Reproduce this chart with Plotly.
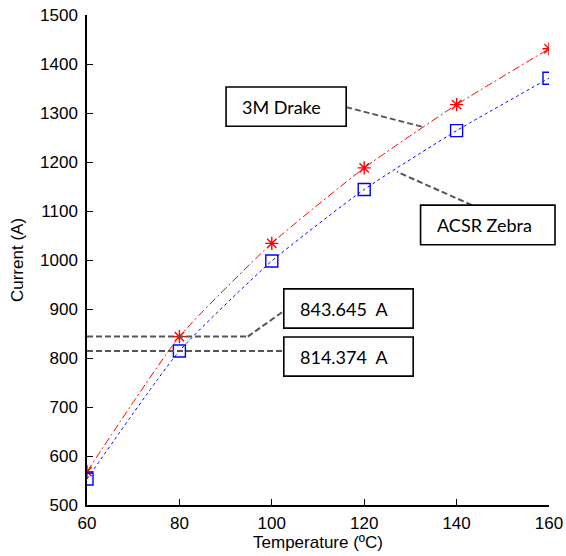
import plotly.graph_objects as go

temps = [60, 80, 100, 120, 140, 160]
drake = [568, 843.645, 1034, 1188, 1317, 1431]
zebra = [553, 814.374, 998, 1144, 1264, 1371]
xticks = [60, 80, 100, 120, 140, 160]
yticks = [500, 600, 700, 800, 900, 1000, 1100, 1200, 1300, 1400, 1500]

XR = (60, 160)

def px(x):
    return (x - XR[0]) / (XR[1] - XR[0])

fig = go.Figure()
fig.add_trace(go.Scatter(x=temps, y=drake, mode="lines+markers", name="3M Drake",
                         line=dict(color="red", width=1, dash="8px,3px,2px,3px", shape="spline", smoothing=0.5),
                         marker=dict(symbol="asterisk-open", size=11, line=dict(color="red", width=1.4))))
fig.add_trace(go.Scatter(x=temps, y=zebra, mode="lines+markers", name="ACSR Zebra",
                         line=dict(color="blue", width=1, dash="3px,3px", shape="spline", smoothing=0.5),
                         marker=dict(symbol="square-open", size=12, color="blue", line=dict(color="blue", width=1.4))))

shapes = []
annos = []
grey = dict(color="#555555", width=2, dash="6px,3px")

def box(x0, x1, y0, y1, text):
    shapes.append(dict(type="rect", xref="paper", yref="y", x0=px(x0), x1=px(x1), y0=y0, y1=y1,
                       line=dict(color="black", width=1.6), fillcolor="white", layer="above"))
    annos.append(dict(xref="paper", yref="y", x=px(x0), y=(y0 + y1) / 2, text=text,
                      xanchor="left", yanchor="middle", xshift=14,
                      showarrow=False, font=dict(family="Lato, Open Sans, sans-serif", size=18, color="black")))

def leader(pts):
    for (xa, ya), (xb, yb) in zip(pts[:-1], pts[1:]):
        shapes.append(dict(type="line", xref="paper", yref="y", x0=px(xa), y0=ya, x1=px(xb), y1=yb, line=grey))

# leader lines
leader([(116.1, 1312), (132.5, 1272)])
leader([(143.3, 1112), (127.1, 1180)])
leader([(60, drake[1]), (94.8, drake[1]), (102.6, 896)])
leader([(60, zebra[1]), (102.6, zebra[1])])

box(90.1, 116.1, 1273, 1353, "3M Drake")
box(132.2, 161.3, 1031, 1112, "ACSR Zebra")
box(102.6, 130.6, 861, 941, "843.645  A")
box(102.6, 130.6, 763, 843, "814.374  A")

tfont = dict(family="Liberation Sans, Arial, sans-serif", size=17, color="black")
title_font = dict(family="Liberation Sans, Arial, sans-serif", size=17, color="black")
fig.update_layout(
    width=566, height=556,
    margin=dict(l=87, r=17, t=15, b=51, autoexpand=False),
    plot_bgcolor="white", paper_bgcolor="white",
    showlegend=False,
    shapes=shapes, annotations=annos,
    xaxis=dict(range=list(XR), tickvals=xticks, showline=True, linecolor="black", linewidth=1.5,
               ticks="inside", ticklen=6, tickcolor="black", tickwidth=1.2, showgrid=False, zeroline=False,
               automargin=False, tickfont=tfont, ticklabelstandoff=2,
               title=dict(text="Temperature (ºC)", font=title_font, standoff=4)),
    yaxis=dict(range=[500, 1500], tickvals=yticks, showline=True, linecolor="black", linewidth=1.5,
               ticks="inside", ticklen=6, tickcolor="black", tickwidth=1.2, showgrid=False, zeroline=False,
               automargin=False, tickfont=tfont, ticklabelstandoff=4,
               title=dict(text="Current (A)", font=title_font, standoff=12)),
)
fig.write_html("out.html", config={"displayModeBar": False},
               post_script="document.body.style.margin='0';document.body.style.overflow='hidden';")
